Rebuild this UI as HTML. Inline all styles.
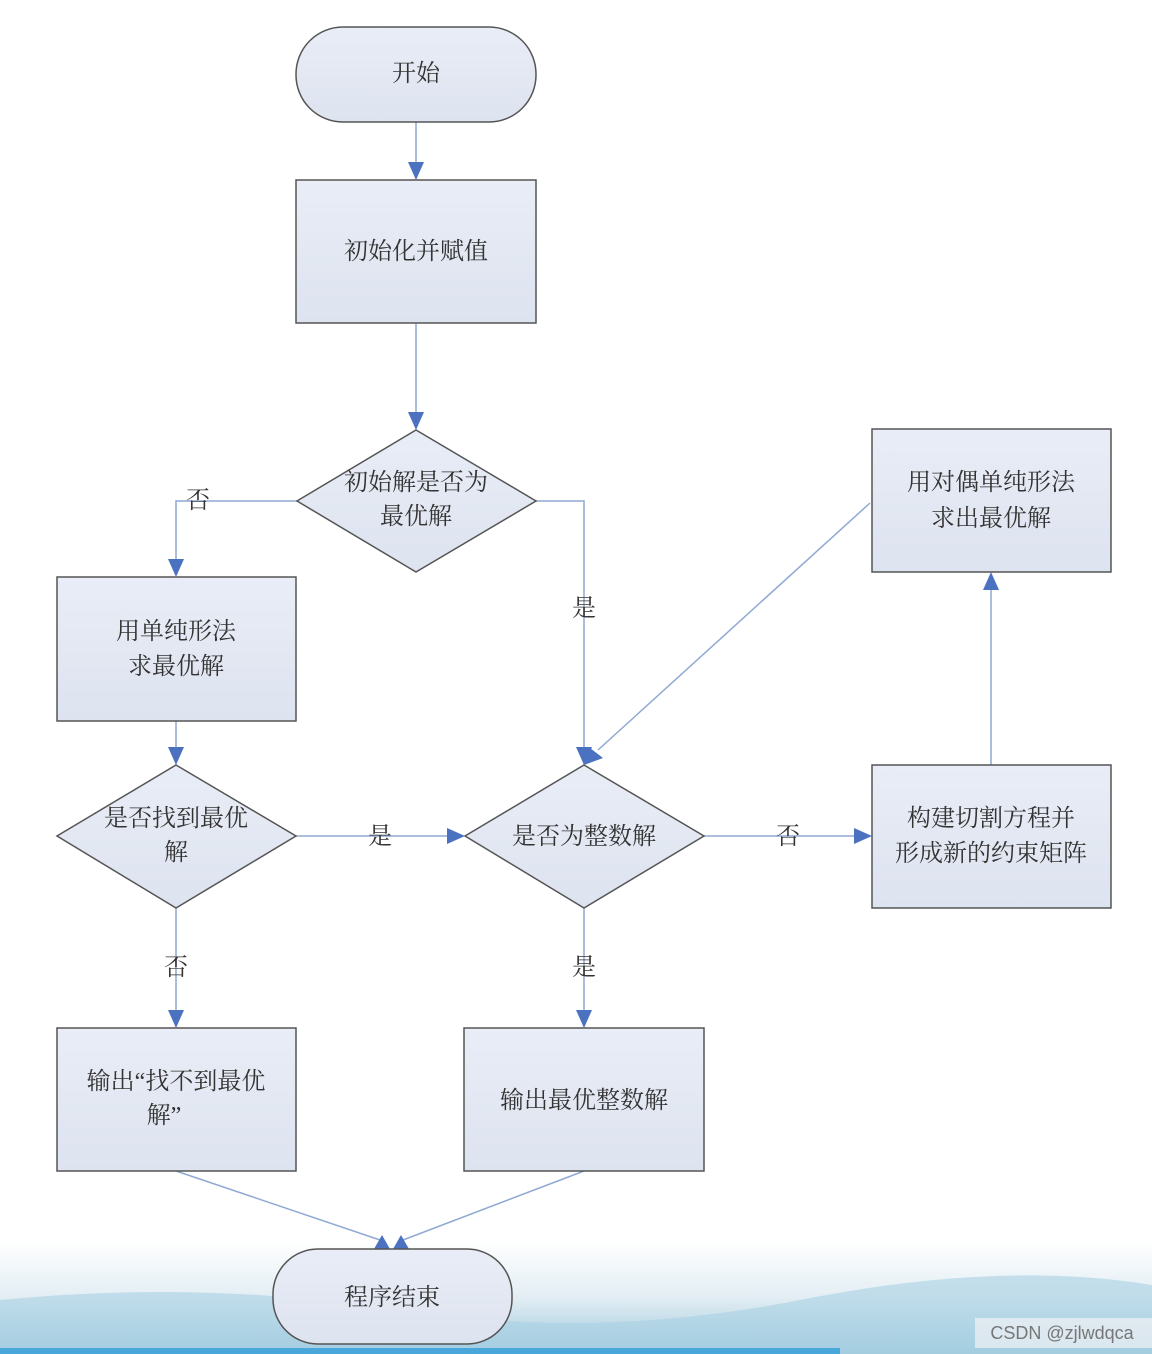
<!DOCTYPE html>
<html><head><meta charset="utf-8"><style>
html,body{margin:0;padding:0;background:#fff;}
svg{display:block;}
text{font-family:"Liberation Serif","Noto Serif CJK SC","Noto Sans CJK SC",serif;fill:#333;}
</style></head><body>
<svg width="1152" height="1354" viewBox="0 0 1152 1354" xmlns="http://www.w3.org/2000/svg">
<defs>
<linearGradient id="bg" x1="0" y1="0" x2="0" y2="1">
<stop offset="0" stop-color="#ffffff"/>
<stop offset="0.5" stop-color="#e3eef4"/>
<stop offset="1" stop-color="#9cc8dc"/>
</linearGradient>
<linearGradient id="nd" x1="0" y1="0" x2="0" y2="1">
<stop offset="0" stop-color="#e9edf7"/>
<stop offset="1" stop-color="#dde3ef"/>
</linearGradient>
</defs>
<rect x="0" y="1240" width="1152" height="114" fill="url(#bg)"/>
<path d="M0 1300 Q200 1280 400 1310 T800 1300 T1152 1285 L1152 1354 L0 1354Z" fill="#a9d0e2" opacity="0.6"/>
<rect x="0" y="1348" width="840" height="6" fill="#4aa7dc"/>
<rect x="975" y="1318" width="177" height="30" fill="#e8eef2" opacity="0.8"/>
<text x="1062" y="1339" font-size="18" text-anchor="middle" style="font-family:'Liberation Sans',sans-serif;fill:#777">CSDN @zjlwdqca</text>

<g stroke="#8fa9d3" stroke-width="1.5" fill="none">
<line x1="416" y1="122" x2="416" y2="165"/>
<line x1="416" y1="323" x2="416" y2="415"/>
<polyline points="297,501 176,501 176,562"/>
<polyline points="536,501 584,501 584,750"/>
<line x1="176" y1="721" x2="176" y2="750"/>
<line x1="296" y1="836" x2="450" y2="836"/>
<line x1="176" y1="908" x2="176" y2="1013"/>
<line x1="704" y1="836" x2="857" y2="836"/>
<line x1="584" y1="908" x2="584" y2="1013"/>
<line x1="991" y1="765" x2="991" y2="588"/>
<line x1="870" y1="503" x2="598" y2="750"/>
<line x1="176" y1="1171" x2="380" y2="1240"/>
<line x1="584" y1="1171" x2="403" y2="1240"/>
</g>
<g fill="#4a72c0">
<polygon points="408,162 424,162 416,180"/>
<polygon points="408,412 424,412 416,430"/>
<polygon points="168,559 184,559 176,577"/>
<polygon points="576,747 592,747 584,765"/>
<polygon points="168,747 184,747 176,765"/>
<polygon points="447,828 447,844 465,836"/>
<polygon points="168,1010 184,1010 176,1028"/>
<polygon points="854,828 854,844 872,836"/>
<polygon points="576,1010 592,1010 584,1028"/>
<polygon points="983,590 999,590 991,572"/>
<polygon points="590,748 603,758 584,765"/>
<polygon points="374,1249 390,1249 382,1235"/>
<polygon points="393,1249 409,1249 401,1235"/>
</g>

<g fill="url(#nd)" stroke="#555" stroke-width="1.5">
<rect x="296" y="27" width="240" height="95" rx="47"/>
<rect x="296" y="180" width="240" height="143"/>
<polygon points="416,430 536,501 416,572 297,501"/>
<rect x="57" y="577" width="239" height="144"/>
<polygon points="176,765 296,836 176,908 57,836"/>
<polygon points="584,765 704,836 584,908 465,836"/>
<rect x="872" y="765" width="239" height="143"/>
<rect x="872" y="429" width="239" height="143"/>
<rect x="57" y="1028" width="239" height="143"/>
<rect x="464" y="1028" width="240" height="143"/>
<rect x="273" y="1249" width="239" height="95" rx="45"/>
</g>

<g font-size="24" text-anchor="middle">
<text x="416" y="81">开始</text>
<text x="416" y="259">初始化并赋值</text>
<text x="416" y="490">初始解是否为</text>
<text x="416" y="524">最优解</text>
<text x="176" y="639">用单纯形法</text>
<text x="176" y="674">求最优解</text>
<text x="176" y="826">是否找到最优</text>
<text x="176" y="860">解</text>
<text x="584" y="844">是否为整数解</text>
<text x="991" y="826">构建切割方程并</text>
<text x="991" y="861">形成新的约束矩阵</text>
<text x="991" y="490">用对偶单纯形法</text>
<text x="991" y="526">求出最优解</text>
<text x="176" y="1089">输出“找不到最优</text>
<text x="164" y="1123">解”</text>
<text x="584" y="1108">输出最优整数解</text>
<text x="392" y="1305">程序结束</text>
<text x="198" y="508">否</text>
<text x="584" y="616">是</text>
<text x="380" y="844">是</text>
<text x="176" y="975">否</text>
<text x="788" y="844">否</text>
<text x="584" y="975">是</text>
</g>
</svg>
</body></html>
